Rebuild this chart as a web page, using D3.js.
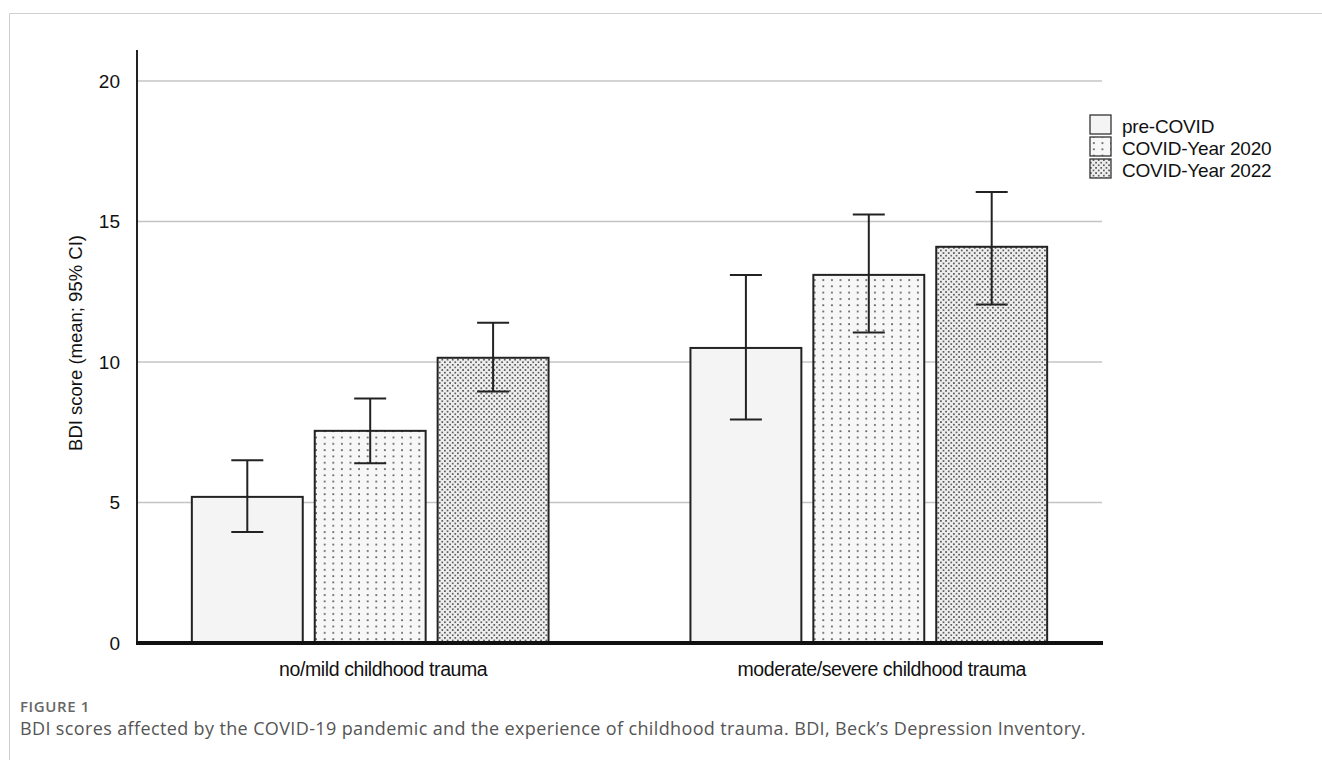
<!DOCTYPE html>
<html><head><meta charset="utf-8">
<script src="https://cdn.jsdelivr.net/npm/d3@7"></script>
<style>body{margin:0;background:#fff}svg{display:block}</style>
</head><body>
<script>
const categories = ["no/mild childhood trauma", "moderate/severe childhood trauma"];
const series = ["pre-COVID", "COVID-Year 2020", "COVID-Year 2022"];
const means = [[5.2, 7.55, 10.15], [10.5, 13.1, 14.1]];
const lower = [[3.95, 6.4, 8.95], [7.95, 11.05, 12.05]];
const upper = [[6.5, 8.7, 11.4], [13.1, 15.25, 16.05]];
const yTicks = [0, 5, 10, 15, 20];

const W = 1322, H = 760;
const svg = d3.select("body").append("svg").attr("width", W).attr("height", H);
const defs = svg.append("defs");
const p1 = defs.append("pattern").attr("id","p2020").attr("patternUnits","userSpaceOnUse").attr("width",8.6).attr("height",6.3);
p1.append("rect").attr("width",8.6).attr("height",6.3).attr("fill","#f7f7f7");
p1.append("rect").attr("x",3).attr("y",2).attr("width",1.7).attr("height",1.7).attr("fill","#555");
const p2 = defs.append("pattern").attr("id","p2022").attr("patternUnits","userSpaceOnUse").attr("width",5.2).attr("height",5.2);
p2.append("rect").attr("width",5.2).attr("height",5.2).attr("fill","#eeeeee");
p2.append("rect").attr("x",0).attr("y",0).attr("width",1.7).attr("height",1.7).attr("fill","#5a5a5a");
p2.append("rect").attr("x",2.6).attr("y",2.6).attr("width",1.7).attr("height",1.7).attr("fill","#5a5a5a");
const fills = ["#f4f4f4", "url(#p2020)", "url(#p2022)"];

// frame
svg.append("path").attr("d","M9.5,760 V13.5 H1322").attr("fill","none").attr("stroke","#d0d0d0").attr("stroke-width",1);

const y = d3.scaleLinear().domain([0,20]).range([643, 81]);
const x0 = d3.scaleBand().domain(categories).range([137, 1102]).paddingInner(0.2846).paddingOuter(0.11);
const x1 = d3.scaleBand().domain(series).range([0, x0.bandwidth()]).paddingInner(0.0976).paddingOuter(0);

// gridlines
svg.append("g").selectAll("line").data(yTicks.filter(d=>d>0)).join("line")
  .attr("x1",137).attr("x2",1102).attr("y1",d=>y(d)).attr("y2",d=>y(d))
  .attr("stroke","#c4c4c4").attr("stroke-width",1.5);

// y axis
const yAxis = d3.axisLeft(y).tickValues(yTicks).tickSize(0).tickPadding(17);
const ga = svg.append("g").attr("transform","translate(137,0)").call(yAxis);
ga.select(".domain").remove();
ga.selectAll("text").attr("font-family","Liberation Sans, Arial, sans-serif").attr("font-size",19).attr("fill","#111");
svg.append("line").attr("x1",137).attr("x2",137).attr("y1",50).attr("y2",644).attr("stroke","#222").attr("stroke-width",2);

// bars
const groups = svg.append("g").selectAll("g").data(categories).join("g")
  .attr("transform", d=>`translate(${x0(d)},0)`);
groups.each(function(cat, ci){
  const g = d3.select(this);
  series.forEach((s, si)=>{
    const bx = x1(s), bw = x1.bandwidth();
    g.append("rect").attr("x",bx).attr("y",y(means[ci][si])).attr("width",bw).attr("height",y(0)-y(means[ci][si]))
      .attr("fill",fills[si]).attr("stroke","#222").attr("stroke-width",2);
    const cx = bx + bw/2;
    g.append("line").attr("x1",cx).attr("x2",cx).attr("y1",y(upper[ci][si])).attr("y2",y(lower[ci][si])).attr("stroke","#222").attr("stroke-width",2);
    [upper[ci][si], lower[ci][si]].forEach(v=>{
      g.append("line").attr("x1",cx-16).attr("x2",cx+16).attr("y1",y(v)).attr("y2",y(v)).attr("stroke","#222").attr("stroke-width",2);
    });
  });
});

// baseline
svg.append("line").attr("x1",136).attr("x2",1103).attr("y1",643).attr("y2",643).attr("stroke","#111").attr("stroke-width",4);

// x labels
svg.append("g").selectAll("text").data(categories).join("text")
  .attr("x",d=>x0(d)+x0.bandwidth()/2 + 13).attr("y",676).attr("text-anchor","middle")
  .attr("font-family","Liberation Sans, Arial, sans-serif").attr("font-size",19.5).attr("letter-spacing",-0.4).attr("fill","#111").text(d=>d);

// y label
svg.append("text").attr("transform","translate(82,343) rotate(-90)").attr("text-anchor","middle")
  .attr("font-family","Liberation Sans, Arial, sans-serif").attr("font-size",18.5).attr("fill","#111")
  .text("BDI score (mean; 95% CI)");

// legend
const leg = svg.append("g").attr("transform","translate(1090,115)");
series.forEach((s,i)=>{
  leg.append("rect").attr("x",0).attr("y",i*22).attr("width",21).attr("height",19).attr("fill",fills[i]).attr("stroke","#333").attr("stroke-width",1.3);
  leg.append("text").attr("x",32).attr("y",i*22+18).attr("font-family","Liberation Sans, Arial, sans-serif").attr("font-size",19).attr("fill","#111").attr("letter-spacing",-0.2).text(s);
});

// caption
svg.append("text").attr("x",20).attr("y",712).attr("font-family","Open Sans, sans-serif").attr("font-size",15).attr("font-weight",600).attr("letter-spacing",0.6).attr("fill","#666").text("FIGURE 1");
svg.append("text").attr("x",20).attr("y",735).attr("font-family","Open Sans, sans-serif").attr("font-size",18).attr("letter-spacing",0.37).attr("fill","#555")
  .text("BDI scores affected by the COVID-19 pandemic and the experience of childhood trauma. BDI, Beck’s Depression Inventory.");
</script>
</body></html>
